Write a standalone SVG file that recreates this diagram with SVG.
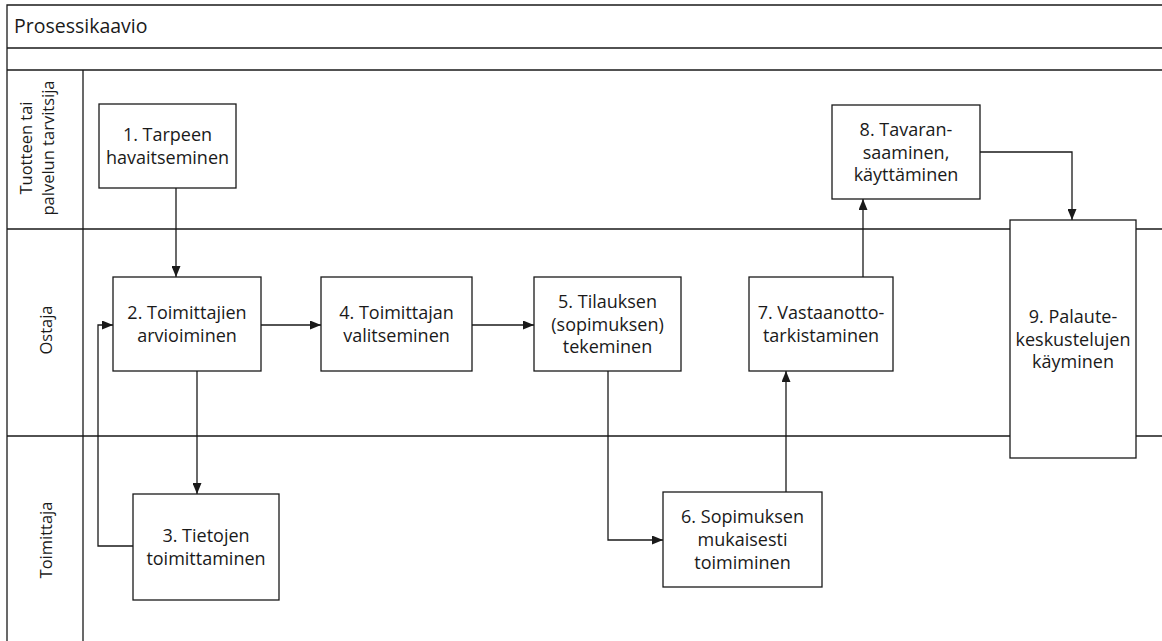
<svg xmlns="http://www.w3.org/2000/svg" width="1162" height="641" viewBox="0 0 1162 641">
<defs>
<style>
.ln{stroke:#1a1a1a;stroke-width:1.3;fill:none}
.bx{fill:#fff;stroke:#1a1a1a;stroke-width:1.3}
.t{font-family:"Open Sans","Liberation Sans",sans-serif;font-size:18px;fill:#1a1a1a;text-anchor:middle}
.lane{font-family:"Open Sans","Liberation Sans",sans-serif;font-size:16.5px;fill:#1a1a1a;text-anchor:middle}
.title{font-family:"Open Sans","Liberation Sans",sans-serif;font-size:19.5px;fill:#1a1a1a}
.c{stroke:#1a1a1a;stroke-width:1.3;fill:none;marker-end:url(#ah)}
</style>
<marker id="ah" markerUnits="userSpaceOnUse" markerWidth="11" markerHeight="9" refX="11" refY="4.5" orient="auto">
<path d="M0,0 L11,4.5 L0,9 z" fill="#1a1a1a"/>
</marker>
</defs>
<rect width="1162" height="641" fill="#fff"/>
<g id="pool">
<path class="ln" d="M7,641 V5 H1162 M7,48 H1162 M7,70 H1162 M83,70 V641 M7,229 H1162 M7,436 H1162"/>
<text class="title" x="14" y="33">Prosessikaavio</text>
<text class="lane" transform="translate(32,148) rotate(-90)">Tuotteen tai</text>
<text class="lane" transform="translate(54,148) rotate(-90)">palvelun tarvitsija</text>
<text class="lane" transform="translate(52,330) rotate(-90)">Ostaja</text>
<text class="lane" transform="translate(52,540) rotate(-90)">Toimittaja</text>
</g>
<g id="connectors">
<path class="c" d="M176,188 V277"/>
<path class="c" d="M197,371 V494"/>
<path class="c" d="M133,546 H98 V325 H113"/>
<path class="c" d="M261,325 H321"/>
<path class="c" d="M472,325 H534"/>
<path class="c" d="M608,371 V540 H663"/>
<path class="c" d="M786,492 V371"/>
<path class="c" d="M863,277 V199"/>
<path class="c" d="M980,152 H1072 V220"/>
</g>
<g id="n1"><rect class="bx" x="99" y="104" width="137" height="84"/>
<text class="t" x="167.5" y="141.2"><tspan x="167.5">1. Tarpeen</tspan><tspan x="167.5" dy="22.6">havaitseminen</tspan></text></g>
<g id="n2"><rect class="bx" x="113" y="277" width="148" height="94"/>
<text class="t" x="187" y="319.2"><tspan x="187">2. Toimittajien</tspan><tspan x="187" dy="22.6">arvioiminen</tspan></text></g>
<g id="n3"><rect class="bx" x="133" y="494" width="146" height="106"/>
<text class="t" x="206" y="542.2"><tspan x="206">3. Tietojen</tspan><tspan x="206" dy="22.6">toimittaminen</tspan></text></g>
<g id="n4"><rect class="bx" x="321" y="277" width="151" height="94"/>
<text class="t" x="396.5" y="319.2"><tspan x="396.5">4. Toimittajan</tspan><tspan x="396.5" dy="22.6">valitseminen</tspan></text></g>
<g id="n5"><rect class="bx" x="534" y="277" width="147" height="94"/>
<text class="t" x="607.5" y="307.9"><tspan x="607.5">5. Tilauksen</tspan><tspan x="607.5" dy="22.6">(sopimuksen)</tspan><tspan x="607.5" dy="22.6">tekeminen</tspan></text></g>
<g id="n6"><rect class="bx" x="663" y="492" width="159" height="95"/>
<text class="t" x="742.5" y="523.4"><tspan x="742.5">6. Sopimuksen</tspan><tspan x="742.5" dy="22.6">mukaisesti</tspan><tspan x="742.5" dy="22.6">toimiminen</tspan></text></g>
<g id="n7"><rect class="bx" x="749" y="277" width="144" height="94"/>
<text class="t" x="821" y="319.2"><tspan x="821">7. Vastaanotto-</tspan><tspan x="821" dy="22.6">tarkistaminen</tspan></text></g>
<g id="n8"><rect class="bx" x="832" y="105" width="148" height="94"/>
<text class="t" x="906" y="135.9"><tspan x="906">8. Tavaran-</tspan><tspan x="906" dy="22.6">saaminen,</tspan><tspan x="906" dy="22.6">käyttäminen</tspan></text></g>
<g id="n9"><rect class="bx" x="1010" y="220" width="126" height="238"/>
<text class="t" x="1073" y="322.9"><tspan x="1073">9. Palaute-</tspan><tspan x="1073" dy="22.6">keskustelujen</tspan><tspan x="1073" dy="22.6">käyminen</tspan></text></g>
</svg>
